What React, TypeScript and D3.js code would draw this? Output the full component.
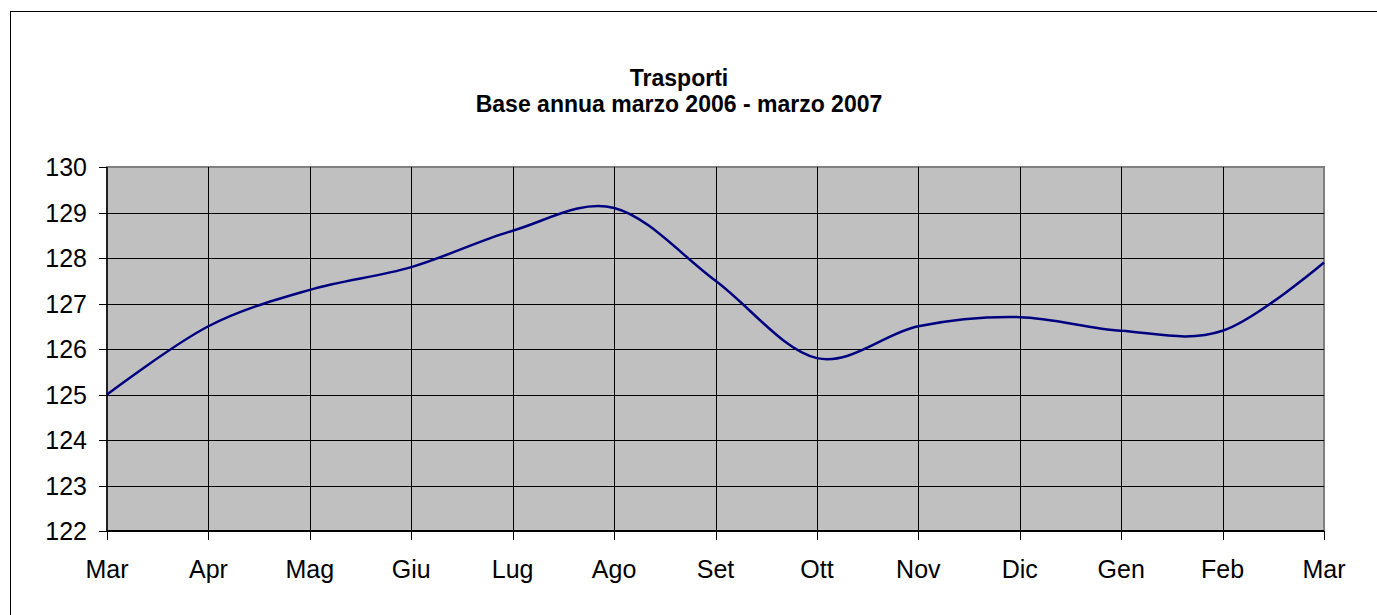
import React from "react";
import * as d3 from "d3";

const months = ["Mar", "Apr", "Mag", "Giu", "Lug", "Ago", "Set", "Ott", "Nov", "Dic", "Gen", "Feb", "Mar"];
const values = [125.0, 126.5, 127.3, 127.8, 128.6, 129.1, 127.5, 125.8, 126.5, 126.7, 126.4, 126.4, 127.9];
const yTicks = [122, 123, 124, 125, 126, 127, 128, 129, 130];
const titleLines = ["Trasporti", "Base annua marzo 2006 - marzo 2007"];

export default function App() {
  const W = 1377, H = 615;
  const left = 107, right = 1324, top = 167, bottom = 531;
  const x = d3.scaleLinear().domain([0, months.length - 1]).range([left, right]);
  const y = d3.scaleLinear().domain([122, 130]).range([bottom, top]);
  const line = d3.line<number>()
    .x((_, i) => x(i))
    .y((d) => y(d))
    .curve(d3.curveCatmullRom.alpha(0));
  const font = "'Liberation Sans', Arial, sans-serif";
  return (
    <svg width={W} height={H} style={{ position: "absolute", left: 0, top: 0, background: "#fff" }} fontFamily={font}>
      <rect x={10.5} y={11.5} width={1380} height={620} fill="#fff" stroke="#000" strokeWidth={1} />
      <text x={679} y={86} textAnchor="middle" fontWeight="bold" fontSize={23}>{titleLines[0]}</text>
      <text x={679} y={112} textAnchor="middle" fontWeight="bold" fontSize={23}>{titleLines[1]}</text>
      <rect x={left} y={top} width={right - left} height={bottom - top} fill="#C0C0C0" stroke="#808080" strokeWidth={2} />
      {yTicks.map((t) => (
        <g key={"y" + t}>
          {t !== 122 && t !== 130 && (
            <line x1={left} x2={right} y1={Math.round(y(t)) + 0.5} y2={Math.round(y(t)) + 0.5} stroke="#000" strokeWidth={1} />
          )}
          <line x1={left - 8} x2={left} y1={Math.round(y(t)) + 0.5} y2={Math.round(y(t)) + 0.5} stroke="#000" strokeWidth={1} />
          <text x={left - 20} y={y(t)} textAnchor="end" dominantBaseline="central" fontSize={25}>{t}</text>
        </g>
      ))}
      {months.map((m, i) => (
        <g key={"x" + i}>
          {i !== 0 && i !== months.length - 1 && (
            <line x1={Math.round(x(i)) + 0.5} x2={Math.round(x(i)) + 0.5} y1={top} y2={bottom} stroke="#000" strokeWidth={1} />
          )}
          <line x1={Math.round(x(i)) + 0.5} x2={Math.round(x(i)) + 0.5} y1={bottom} y2={bottom + 9} stroke="#000" strokeWidth={1} />
          <text x={x(i)} y={578} textAnchor="middle" fontSize={25}>{m}</text>
        </g>
      ))}
      <line x1={left} x2={left} y1={top} y2={bottom + 1} stroke="#000" strokeWidth={1.5} />
      <line x1={left} x2={right} y1={bottom} y2={bottom} stroke="#000" strokeWidth={2} />
      <path d={line(values) || ""} fill="none" stroke="#000080" strokeWidth={2.5} />
    </svg>
  );
}
